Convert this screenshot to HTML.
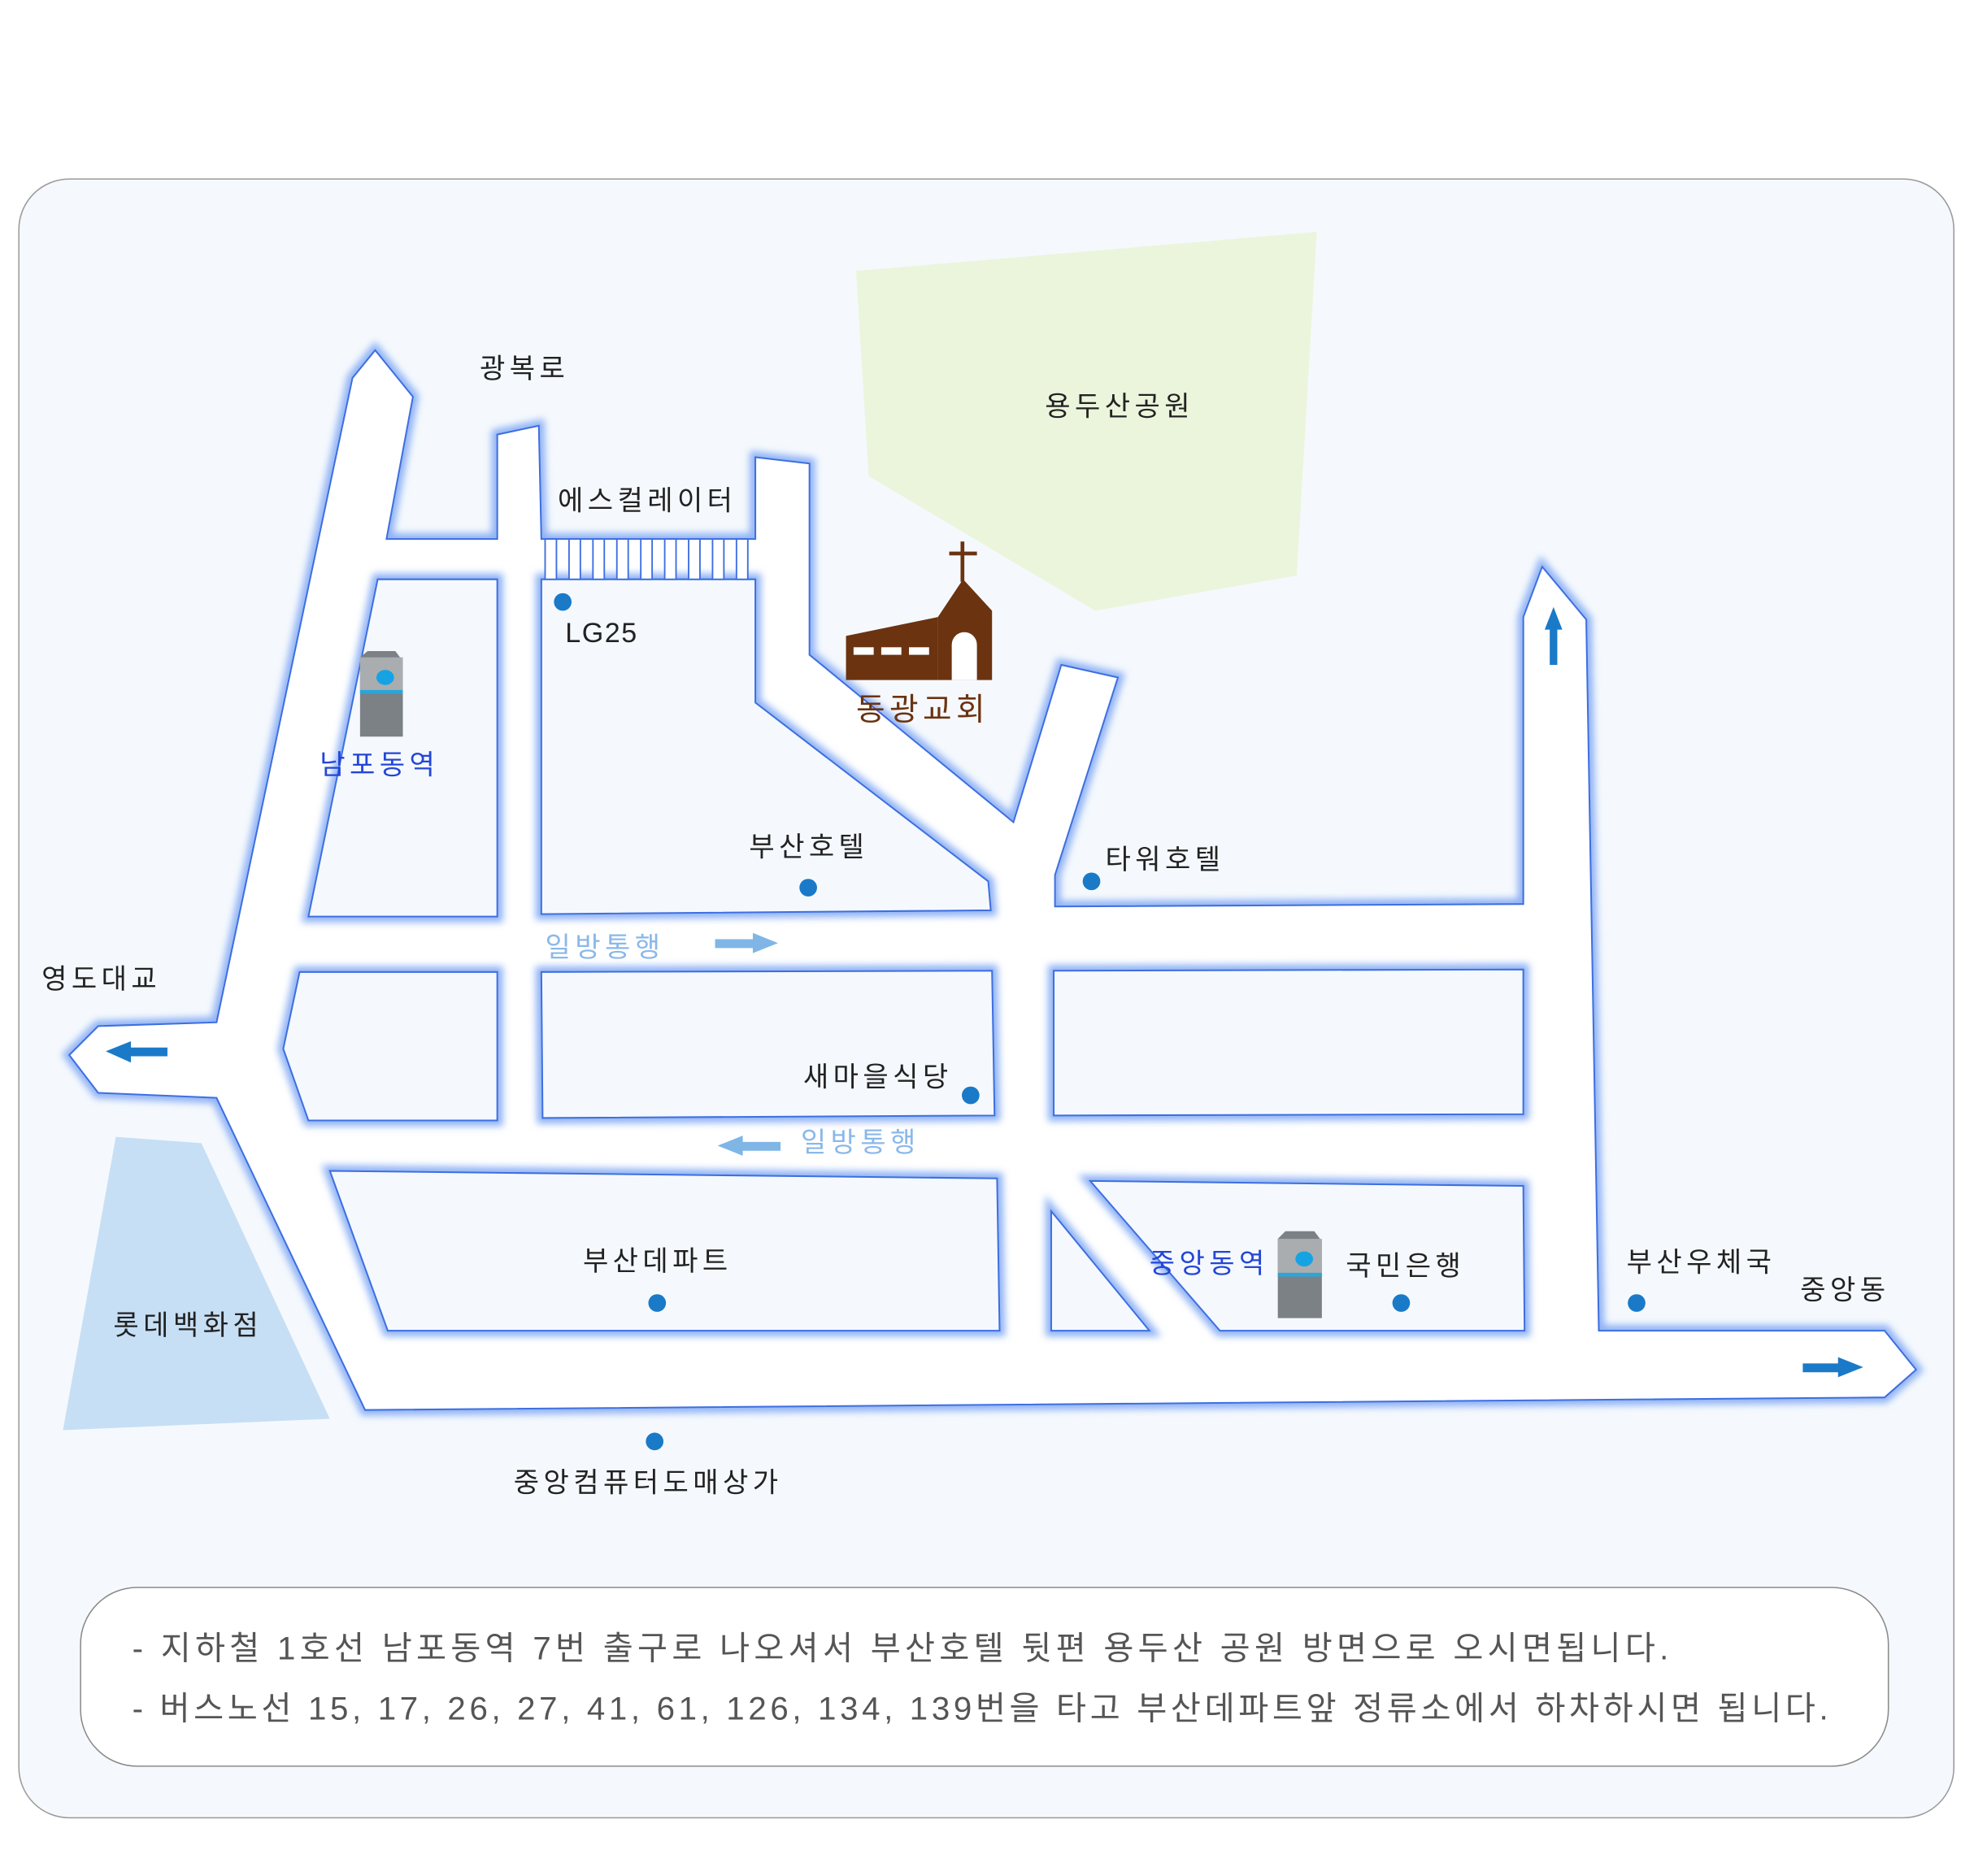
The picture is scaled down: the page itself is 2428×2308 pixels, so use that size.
<!DOCTYPE html>
<html><head><meta charset="utf-8"><style>
html,body{margin:0;padding:0;background:#fff;}
svg{display:block;}
text{font-family:"Liberation Sans","Noto Sans CJK KR",sans-serif;}
</style></head><body>
<svg width="2428" height="2308" viewBox="0 0 1568 1490" xmlns="http://www.w3.org/2000/svg">
<defs>
<filter id="g" x="-10%" y="-10%" width="120%" height="120%"><feGaussianBlur stdDeviation="3"/></filter>
</defs>
<rect x="0" y="0" width="1568" height="1490" fill="#fff"/>
<rect x="15" y="142" width="1537" height="1302" rx="40" fill="#f5f9fd" stroke="#9a9a9a" stroke-width="1"/>
<polygon points="680,215 1046,184 1030,457 870,485 690,378" fill="#ebf5dc"/>
<polygon points="92,903 160,908 262,1127 50,1136" fill="#c7dff5"/>
<g id="roads">
<polygon points="55,838 78,815 172,812 280,300 298,278 328,315 307,428 395,428 395,345 428,338 430,428 600,428 600,363 643,368 643,520 805,653 843,528 888,538 838,695 838,720 1210,718 1210,490 1225,450 1260,492 1270,1057 1497,1057 1522,1088 1497,1110 290,1120 172,872 78,868" fill="none" stroke="#8fb2f5" stroke-width="9" filter="url(#g)"/>
<polygon points="55,838 78,815 172,812 280,300 298,278 328,315 307,428 395,428 395,345 428,338 430,428 600,428 600,363 643,368 643,520 805,653 843,528 888,538 838,695 838,720 1210,718 1210,490 1225,450 1260,492 1270,1057 1497,1057 1522,1088 1497,1110 290,1120 172,872 78,868" fill="#fff" stroke="#3d6fe0" stroke-width="1.3"/>
<g fill="none" stroke="#8fb2f5" stroke-width="9" filter="url(#g)">
<polygon points="300,460 395,460 395,728 245,728"/>
<polygon points="430,460 600,460 600,558 785,700 787,723 430,726"/>
<polygon points="238,772 395,772 395,890 245,890 225,833"/>
<polygon points="430,772 788,771 790,886 431,888"/>
<polygon points="837,771 1210,770 1210,885 837,886"/>
<polygon points="262,930 792,936 794,1057 308,1057"/>
<polygon points="835,962 913,1057 835,1057"/>
<polygon points="866,938 1210,942 1211,1057 969,1057"/>
</g>
<g fill="#f5f9fd" stroke="#3d6fe0" stroke-width="1.3">
<polygon points="300,460 395,460 395,728 245,728"/>
<polygon points="430,460 600,460 600,558 785,700 787,723 430,726"/>
<polygon points="238,772 395,772 395,890 245,890 225,833"/>
<polygon points="430,772 788,771 790,886 431,888"/>
<polygon points="837,771 1210,770 1210,885 837,886"/>
<polygon points="262,930 792,936 794,1057 308,1057"/>
<polygon points="835,962 913,1057 835,1057"/>
<polygon points="866,938 1210,942 1211,1057 969,1057"/>
</g>
</g>
<g fill="#fff" stroke="#3d6fe0" stroke-width="1.2">
<rect x="433" y="428" width="9" height="32"/><rect x="452" y="428" width="9" height="32"/><rect x="471" y="428" width="9" height="32"/><rect x="490" y="428" width="9" height="32"/><rect x="509" y="428" width="9" height="32"/><rect x="528" y="428" width="9" height="32"/><rect x="547" y="428" width="9" height="32"/><rect x="566" y="428" width="9" height="32"/><rect x="585" y="428" width="9" height="32"/>
</g>
<g fill="#6b3310">
<polygon points="672,505 745,490 745,540 672,540"/>
<polygon points="745,490 765,460 788,485 788,540 745,540"/>
<rect x="763" y="430" width="3" height="32"/><rect x="754" y="438" width="22" height="3"/>
</g>
<g fill="#fff">
<rect x="678" y="514" width="16" height="6"/><rect x="700" y="514" width="16" height="6"/><rect x="722" y="514" width="16" height="6"/>
<path d="M756,540 V512 a10,10 0 0 1 20,0 V540 Z"/>
</g>
<g>
<polygon points="286,522 292,517 314,517 320,525 320,585 286,585" fill="#7b8185"/>
<rect x="286" y="522" width="34" height="28" fill="#a9adb0"/>
<rect x="286" y="548" width="34" height="3" fill="#2aa6d8"/>
<ellipse cx="306" cy="538" rx="7" ry="6" fill="#16a3e4"/>
<polygon points="1015,984 1021,978 1044,978 1050,986 1050,1047 1015,1047" fill="#7b8185"/>
<rect x="1015" y="984" width="35" height="28" fill="#a9adb0"/>
<rect x="1015" y="1011" width="35" height="3" fill="#2aa6d8"/>
<ellipse cx="1036" cy="1000" rx="7" ry="6" fill="#16a3e4"/>
</g>
<g fill="#1a7ac8">
<circle cx="447" cy="478" r="7"/><circle cx="642" cy="705" r="7"/><circle cx="867" cy="700" r="7"/><circle cx="771" cy="870" r="7"/><circle cx="522" cy="1035" r="7"/><circle cx="1113" cy="1035" r="7"/><circle cx="1300" cy="1035" r="7"/><circle cx="520" cy="1145" r="7"/>
</g>
<g fill="#1a7ac8">
<polygon points="84,835 104,827 104,832 133,832 133,839 104,839 104,844"/>
<polygon points="1241,500 1234,482 1227,500 1231,500 1231,528 1237,528 1237,500"/>
<polygon points="1480,1086 1460,1078 1460,1083 1432,1083 1432,1090 1460,1090 1460,1094"/>
</g>
<g fill="#7fb6e6">
<polygon points="618,749 598,741 598,746 568,746 568,753 598,753 598,757"/>
<polygon points="570,910 590,902 590,907 620,907 620,914 590,914 590,918"/>
</g>
<g font-size="22" fill="#222" letter-spacing="3.5">
<text x="381" y="300">광복로</text>
<text x="443" y="405">에스컬레이터</text>
<text x="449" y="510" letter-spacing="1">LG25</text>
<text x="830" y="330">용두산공원</text>
<text x="595" y="680">부산호텔</text>
<text x="878" y="690">타워호텔</text>
<text x="33" y="785">영도대교</text>
<text x="638" y="863">새마을식당</text>
<text x="463" y="1009">부산데파트</text>
<text x="1069" y="1013">국민은행</text>
<text x="1292" y="1010">부산우체국</text>
<text x="1430" y="1032">중앙동</text>
<text x="90" y="1060">롯데백화점</text>
<text x="408" y="1185">중앙컴퓨터도매상가</text>
</g>
<text x="680" y="572" font-size="25" fill="#6b3310" letter-spacing="3.5">동광교회</text>
<g font-size="22" letter-spacing="3.5">
<text x="254" y="615" fill="#2446d8">남포동역</text>
<text x="913" y="1011" fill="#2446d8">중앙동역</text>
<text x="433" y="760" fill="#8ab8ea">일방통행</text>
<text x="636" y="915" fill="#8ab8ea">일방통행</text>
</g>
<rect x="64" y="1261" width="1436" height="142" rx="45" fill="#fff" stroke="#8a8a8a" stroke-width="1"/>
<g font-size="26" fill="#555">
<text x="105" y="1318" letter-spacing="3.4">- 지하철 1호선 남포동역 7번 출구로 나오셔서 부산호텔 뒷편 용두산 공원 방면으로 오시면됩니다.</text>
<text x="105" y="1366" letter-spacing="3.0">- 버스노선 15, 17, 26, 27, 41, 61, 126, 134, 139번을 타고 부산데파트앞 정류소에서 하차하시면 됩니다.</text>
</g>
</svg>
</body></html>
